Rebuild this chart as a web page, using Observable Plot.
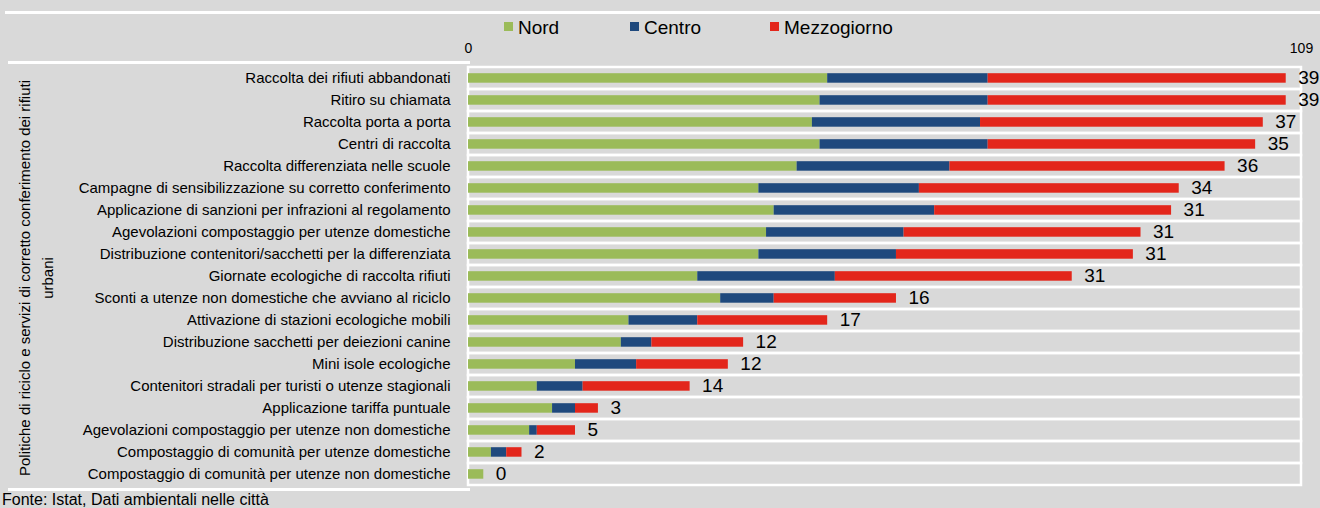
<!DOCTYPE html>
<html>
<head>
<meta charset="utf-8">
<script src="https://cdn.jsdelivr.net/npm/d3@7"></script>
<script src="https://cdn.jsdelivr.net/npm/@observablehq/plot@0.6"></script>
<style>
  html, body { margin: 0; padding: 0; background: #d9d9d9; }
  #wrap { position: relative; width: 1320px; height: 508px; overflow: hidden; background: #d9d9d9;
          font-family: "Liberation Sans Narrow", "Arial Narrow", "Liberation Sans", sans-serif; color: #000; }
  .hline { position: absolute; background: #fff; }
  #chart { position: absolute; top: 0; left: 0; }
  .leg { position: absolute; top: 17px; font-size: 19px; line-height: 22px; white-space: nowrap; }
  .leg span.sw { display: inline-block; width: 9px; height: 9px; margin-right: 5px; vertical-align: 3px; }
  #caption { position: absolute; left: 2px; top: 490px; font-size: 16px; line-height: 20px; white-space: nowrap; }
</style>
</head>
<body>
<div id="wrap">
  <div class="hline" style="top:11px;left:5px;width:1315px;height:3px"></div>
  <div id="chart"></div>
  <div class="hline" style="top:61px;left:8px;width:462px;height:2.5px"></div>
  <div class="hline" style="top:488px;left:8px;width:462px;height:2.5px"></div>
  <div id="legend"></div>
  <div id="caption">Fonte: Istat, Dati ambientali nelle città</div>
</div>
<script>
const categories = [
  "Raccolta dei rifiuti abbandonati",
  "Ritiro su chiamata",
  "Raccolta porta a porta",
  "Centri di raccolta",
  "Raccolta differenziata nelle scuole",
  "Campagne di sensibilizzazione su corretto conferimento",
  "Applicazione di sanzioni per infrazioni al regolamento",
  "Agevolazioni compostaggio per utenze domestiche",
  "Distribuzione contenitori/sacchetti per la differenziata",
  "Giornate ecologiche di raccolta rifiuti",
  "Sconti a utenze non domestiche che avviano al riciclo",
  "Attivazione di stazioni ecologiche mobili",
  "Distribuzione sacchetti per deiezioni canine",
  "Mini isole ecologiche",
  "Contenitori stradali per turisti o utenze stagionali",
  "Applicazione tariffa puntuale",
  "Agevolazioni compostaggio per utenze non domestiche",
  "Compostaggio di comunità per utenze domestiche",
  "Compostaggio di comunità per utenze non domestiche"
];
const nord        = [47, 46, 45, 46, 43, 38, 40, 39, 38, 30, 33, 21, 20, 14, 9, 11, 8, 3, 2];
const centro      = [21, 22, 22, 22, 20, 21, 21, 18, 18, 18, 7, 9, 4, 8, 6, 3, 1, 2, 0];
const mezzogiorno = [39, 39, 37, 35, 36, 34, 31, 31, 31, 31, 16, 17, 12, 12, 14, 3, 5, 2, 0];
const series = ["Nord", "Centro", "Mezzogiorno"];
const colors = ["#9bbb59", "#1f497d", "#e3261b"];
const xTicks = [0, 109];
const axisTitle = "Politiche di riciclo e servizi di corretto conferimento dei rifiuti\nurbani";
const caption = "Fonte: Istat, Dati ambientali nelle città";

const valuesBySeries = [nord, centro, mezzogiorno];
const rows = categories.flatMap((c, i) =>
  series.map((s, j) => ({cat: c, serie: s, v: valuesBySeries[j][i]})));
const totals = categories.map((c, i) => nord[i] + centro[i] + mezzogiorno[i]);

const FONT = '"Liberation Sans Narrow", "Arial Narrow", "Liberation Sans", sans-serif';

const chart = Plot.plot({
  width: 1320,
  height: 490,
  marginLeft: 468,
  marginRight: 19,
  marginTop: 62,
  marginBottom: 1,
  style: {background: "transparent", fontFamily: FONT, fontSize: "15px", color: "#000", overflow: "visible"},
  x: {domain: [xTicks[0], xTicks[xTicks.length - 1]], axis: null},
  y: {domain: categories, padding: 0, axis: null},
  color: {domain: series, range: colors},
  marks: [
    Plot.barX(categories, {y: d => d, x1: xTicks[0], x2: xTicks[xTicks.length - 1],
      fill: "none", stroke: "#ffffff", strokeWidth: 2.5}),
    Plot.barX(rows, Plot.stackX({y: "cat", x: "v", fill: "serie", order: series,
      insetTop: 6.2, insetBottom: 6.3})),
    Plot.text(categories, {y: d => d, x: (d, i) => totals[i], text: (d, i) => String(mezzogiorno[i]),
      dx: 12, dy: -1, textAnchor: "start", fontSize: 19, fill: "#000"}),
    Plot.axisX({anchor: "top", ticks: xTicks, tickSize: 0, tickPadding: 10, fontSize: 14,
      label: null, tickFormat: d => String(d)}),
    Plot.axisY({anchor: "left", tickSize: 0, tickPadding: 18, fontSize: 15, label: null}),
    Plot.text([axisTitle], {text: d => d, frameAnchor: "left", dx: -434, dy: 2, rotate: -90,
      lineHeight: 1.5, fontSize: 15, fill: "#000", textAnchor: "middle"})
  ]
});
document.getElementById("chart").appendChild(chart);

const legendX = [504, 630, 770];
const legend = document.getElementById("legend");
series.forEach((s, j) => {
  const item = document.createElement("div");
  item.className = "leg";
  item.style.left = legendX[j] + "px";
  const sw = document.createElement("span");
  sw.className = "sw";
  sw.style.background = colors[j];
  item.appendChild(sw);
  item.appendChild(document.createTextNode(s));
  legend.appendChild(item);
});
document.getElementById("caption").textContent = caption;
</script>
</body>
</html>
